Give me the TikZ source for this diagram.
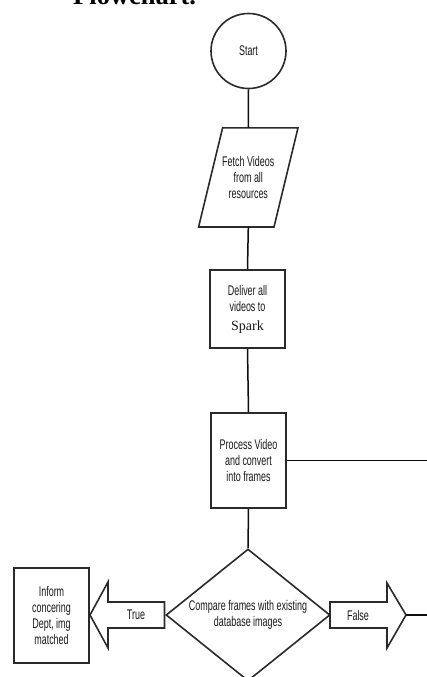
\documentclass[tikz,border=0pt]{standalone}
\usepackage{fontspec}
\setmainfont[FakeStretch=0.64]{Liberation Sans}
\newfontfamily\titlefont{Liberation Serif}
\usetikzlibrary{shapes.geometric,calc}
\definecolor{ink}{HTML}{2A2A2A}
\tikzset{
  shape line/.style={draw=ink, line width=1.6pt, fill=white},
  conn/.style={draw=black!95, line width=1.5pt},
  txt/.style={text=black!90, font=\fontsize{14}{16}\selectfont, align=center, inner sep=0pt},
}
\begin{document}
\begin{tikzpicture}[x=1pt,y=-1pt]
\useasboundingbox (0,0) rectangle (427,677);
\fill[white] (0,0) rectangle (427,677);
% title (mostly cut off at the top)
\node[anchor=base west, inner sep=0pt, font=\titlefont\bfseries\fontsize{26.5}{30}\selectfont] (title) at (73,5) {Flowchart.};

% Start
\node[shape line, circle, minimum size=75pt, inner sep=0pt, txt] (start) at (248.5,51) {Start};

% Fetch (parallelogram)
\node[minimum width=75pt, minimum height=98.7pt, txt] (fetch) at (248.3,177.4) {Fetch Videos\\from all\\resources};
\draw[draw=ink, line width=1.6pt] ($(fetch.north west)+(12,0)$) -- ($(fetch.north east)+(12,0)$) -- ($(fetch.south east)+(-12,0)$) -- ($(fetch.south west)+(-12,0)$) -- cycle;

% Deliver
\node[shape line, rectangle, minimum width=75pt, minimum height=78pt, txt] (deliver) at (247.5,309) {Deliver all\\videos to\\[3pt]{\titlefont\fontsize{14}{15}\selectfont Spark}};

% Process
\node[shape line, rectangle, minimum width=75pt, minimum height=95pt, txt] (process) at (248.5,460.5) {Process Video\\and convert\\into frames};

% Compare (diamond)
\node[shape line, diamond, aspect=1.24, minimum width=164pt, minimum height=132pt, inner sep=0pt, txt] (compare) at (248,615) {Compare frames with existing\\database images};

% Inform
\node[shape line, rectangle, minimum width=75pt, minimum height=95pt, txt] (inform) at (51.5,615.5) {Inform\\concering\\Dept, img\\matched};

% True block arrow (pointing left)
\draw[shape line] (164.5,602) -- (108,602) -- (108,582) -- (90,615) -- (108,648) -- (108,628) -- (164.5,628) -- cycle;
\node[txt] (truelbl) at (136,615) {True};
\coordinate (truetip) at (90,615);

% False block arrow (pointing right)
\draw[shape line] (330,602) -- (387,602) -- (387,583) -- (406,615) -- (387,648) -- (387,628) -- (330,628) -- cycle;
\node[txt] (falselbl) at (358,615) {False};
\coordinate (falsetip) at (406,615);

% free ends at the right edge
\coordinate (edgeA) at (427,460.5);
\coordinate (edgeB) at (427,615);

% connectors
\draw[conn] (start.south) -- (fetch.north);
\draw[conn] (fetch.south) -- (deliver.north);
\draw[conn] (deliver.south) -- (process.north);
\draw[conn] (process.south) -- (compare.north);
\draw[conn] (process.east) -- (edgeA);
\draw[conn] (falsetip) -- (edgeB);
\end{tikzpicture}
\end{document}
